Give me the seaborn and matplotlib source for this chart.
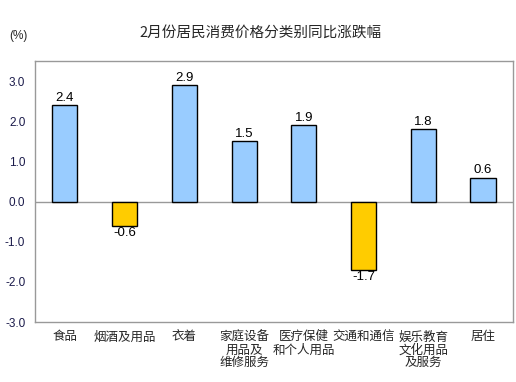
import numpy as np
import pandas as pd
import matplotlib
matplotlib.use("Agg")
import matplotlib.pyplot as plt
import seaborn as sns

sns.set_theme(style="white")
plt.rcParams["font.family"] = ["Noto Sans CJK SC", "DejaVu Sans"]

categories = ["食品", "烟酒及用品", "衣着", "家庭设备\n用品及\n维修服务",
              "医疗保健\n和个人用品", "交通和通信", "娱乐教育\n文化用品\n及服务", "居住"]
values = [2.4, -0.6, 2.9, 1.5, 1.9, -1.7, 1.8, 0.6]
yticks = [3.0, 2.0, 1.0, 0.0, -1.0, -2.0, -3.0]

df = pd.DataFrame({"cat": categories, "val": values})
colors = ["#99CCFF" if v >= 0 else "#FFCC00" for v in values]

fig = plt.figure(figsize=(5.16, 3.82), dpi=100)
ax = fig.add_axes([0.068, 0.157, 0.926, 0.683])

sns.barplot(data=df, x="cat", y="val", hue="cat", palette=colors, legend=False,
            saturation=1, width=0.42, edgecolor="black", linewidth=1.0, ax=ax, zorder=3)

ax.axhline(0, color="#999999", linewidth=1.0, zorder=2)
ax.set_xlim(-0.5, 7.5)
ax.set_ylim(-3.0, 3.5)
ax.set_yticks(yticks)
ax.set_yticklabels([f"{t:.1f}" for t in yticks], fontsize=8.5,
                   family=["Liberation Sans"], color="#1a1a4a")
ax.set_xticks(range(len(categories)))
ax.set_xticklabels(categories, fontsize=9, linespacing=1.0)
ax.tick_params(axis="y", length=3, width=0.8, color="#888888", direction="out", pad=4)
ax.tick_params(axis="x", length=0, pad=6)
ax.set_xlabel("")
ax.set_ylabel("")
for s in ax.spines.values():
    s.set_color("#999999")
    s.set_linewidth(1.0)

for i, v in enumerate(values):
    off = 0.03 if v >= 0 else -0.03
    ax.text(i, v + off, f"{v:.1f}", ha="center", va="bottom" if v >= 0 else "top",
            fontsize=9.5, family=["Liberation Sans"], color="black")

fig.text(0.505, 0.915, "2月份居民消费价格分类别同比涨跌幅", ha="center", va="center",
         fontsize=10.5, fontweight="medium")
fig.text(0.035, 0.905, "(%)", ha="center", va="center", fontsize=8.5,
         family=["Liberation Sans"])

fig.savefig("out.png", dpi=100)
